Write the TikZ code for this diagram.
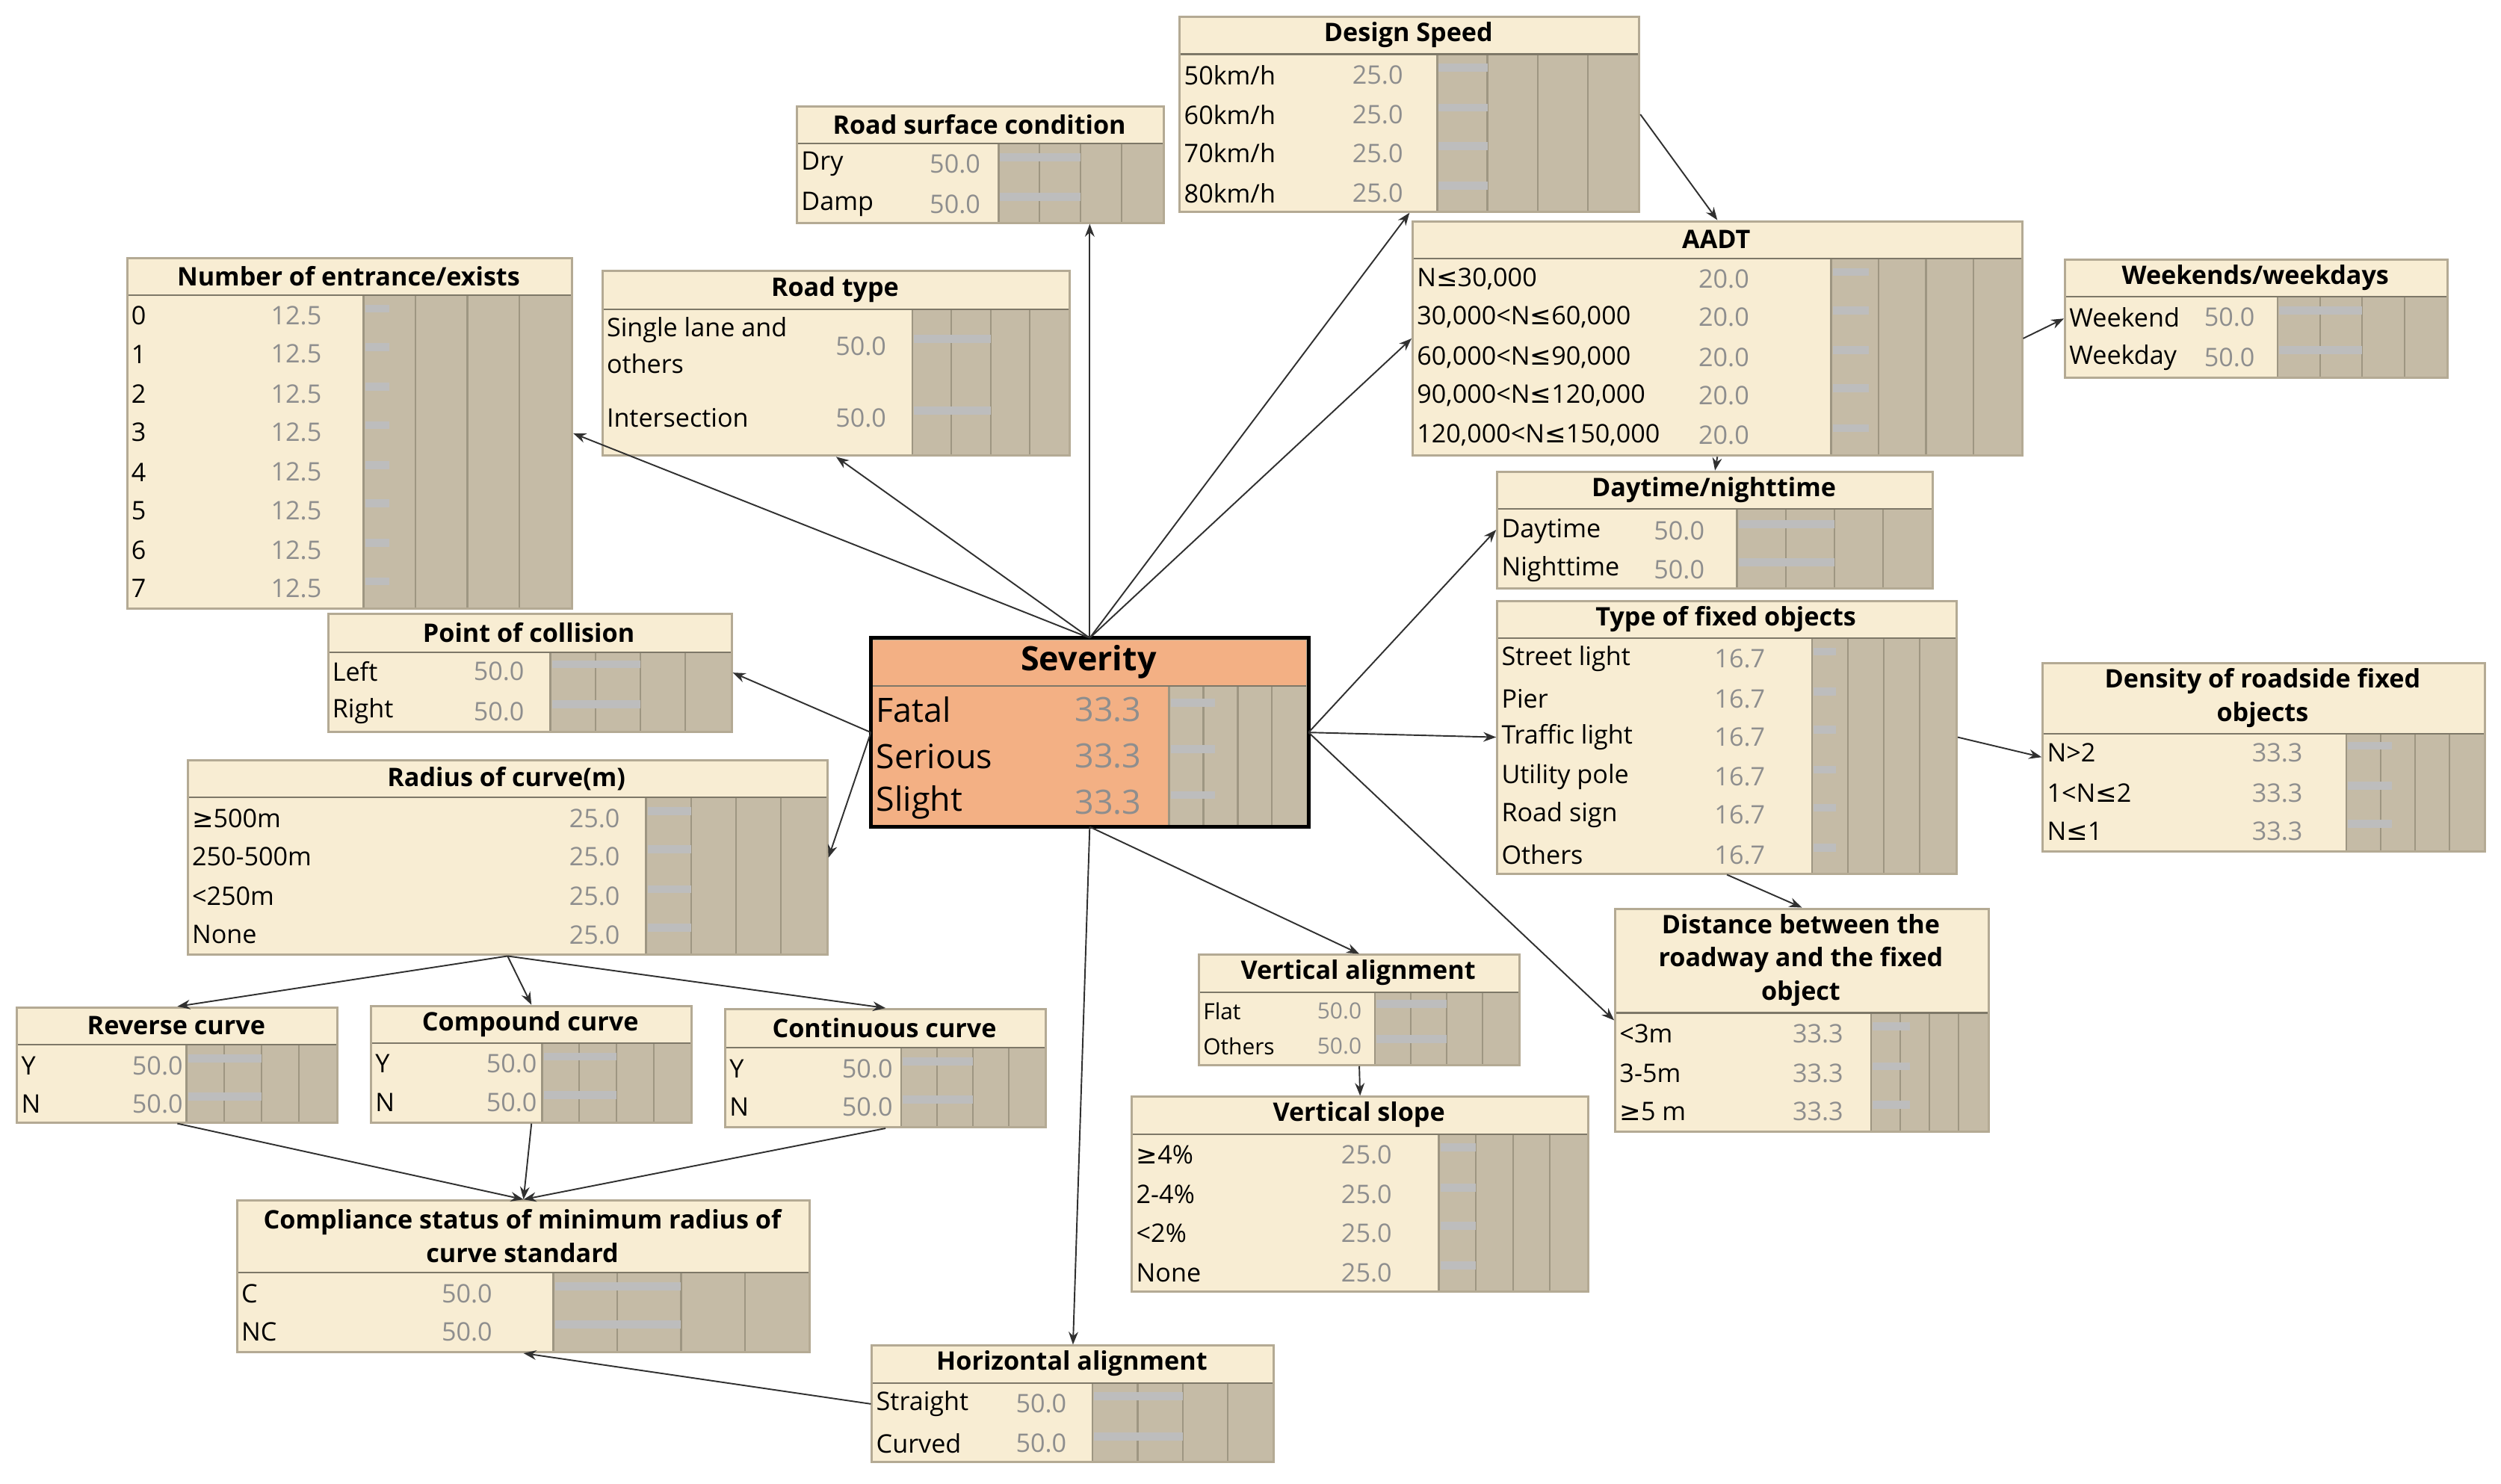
\documentclass[tikz,border=0pt]{standalone}
\usepackage{fontspec}
\setmainfont{Open Sans}
\newfontfamily\symf{DejaVu Sans}
\newcommand\myle{{\symf ≤}}
\newcommand\myge{{\symf ≥}}
\usetikzlibrary{arrows.meta}
\definecolor{cream}{HTML}{F8EDD3}
\definecolor{sevfill}{HTML}{F3B084}
\definecolor{bnborder}{HTML}{B4AA94}
\definecolor{barbg}{HTML}{C5BBA6}
\definecolor{colline}{HTML}{9E9682}
\definecolor{barc}{HTML}{BDBDBD}
\definecolor{valc}{HTML}{8E8E8E}
\definecolor{edgec}{HTML}{303030}
\tikzset{
 lab/.style={inner sep=0,anchor=west,font=\rowfont},
 valst/.style={inner sep=0,anchor=east,text=valc,font=\rowfont},
 ttl/.style={inner sep=0,align=center,font=\ttlfont},
 edge/.style={draw=edgec,line width=0.45pt,-{Stealth[length=4pt,width=3pt]}}
}
\newcommand\rowfont{\fontsize{8}{9}\selectfont}
\newcommand\ttlfont{\fontsize{8}{10.5}\selectfont\bfseries}
% #1 fill, #2 name, #3 x1, #4 y1, #5 x2, #6 y2, #7 title bottom, #8 bar x, #9 title
\newcommand\BN[9][cream]{%
 \fill[#1] (#3,#4) rectangle (#5,#6);
 \fill[barbg] (#8,#7) rectangle (#5,#6);
 \pgfmathsetmacro\cw{(#5-#8)/4}%
 \foreach \k in {1,2,3}{\draw[colline,line width=0.5pt] ({#8+\k*\cw},#7) -- ({#8+\k*\cw},#6);}
 \draw[colline,line width=0.6pt] (#8,#7) -- (#8,#6);
 \draw[colline!80!black,line width=0.5pt] (#3,#7) -- (#5,#7);
 \node[draw=bnborder,line width=0.7pt,inner sep=0,anchor=north west,
   minimum width={(#5-#3)*0.5pt},minimum height={(#6-#4)*0.5pt}] (#2) at (#3,#4) {};
 \node[ttl] at ({(#3+#5)/2},{(#4+#7)/2}) {#9};
 \global\let\curcw\cw
 \gdef\curx{#3}\gdef\curbx{#8}%
}
% y, label, value right x, value
\newcommand\R[4]{%
 \node[lab] at (\curx+3,#1) {#2};
 \node[valst] at (#3,#1) {#4};
 \fill[barc] (\curbx+1,#1-7) rectangle ({\curbx+#4/25*\curcw},#1-2);
}
\begin{document}
\begin{tikzpicture}[x=0.5pt,y=-0.5pt]
\useasboundingbox[fill=white] (0,0) rectangle (1568,930);

\BN{ds}{739}{10}{1027}{132}{34}{901}{Design Speed}
\R{47}{50km/h}{880}{25.0}\R{72}{60km/h}{880}{25.0}\R{96}{70km/h}{880}{25.0}\R{121}{80km/h}{880}{25.0}

\BN{rs}{499}{66}{729}{139}{90}{626}{Road surface condition}
\R{103}{Dry}{615}{50.0}\R{128}{Damp}{615}{50.0}

\BN{ne}{79}{161}{358}{381}{185}{228}{Number of entrance/exists}
\R{198}{0}{202}{12.5}\R{222}{1}{202}{12.5}\R{247}{2}{202}{12.5}\R{271}{3}{202}{12.5}
\R{296}{4}{202}{12.5}\R{320}{5}{202}{12.5}\R{345}{6}{202}{12.5}\R{369}{7}{202}{12.5}

\BN{rt}{377}{169}{670}{285}{194}{572}{Road type}
\node[lab] at (380,207) {Single lane and};
\node[lab] at (380,228) {others};
\R{217}{}{556}{50.0}\R{262}{Intersection}{556}{50.0}

\BN{aadt}{885}{138}{1267}{285}{162}{1148}{AADT}
\R{175}{N\myle30,000}{1097}{20.0}\R{199}{30,000<N\myle60,000}{1097}{20.0}
\R{224}{60,000<N\myle90,000}{1097}{20.0}\R{248}{90,000<N\myle120,000}{1097}{20.0}
\R{273}{120,000<N\myle150,000}{1097}{20.0}

\BN{ww}{1294}{162}{1534}{236}{186}{1428}{Weekends/weekdays}
\R{199}{Weekend}{1414}{50.0}\R{224}{Weekday}{1414}{50.0}

\BN{dn}{938}{295}{1211}{368}{319}{1089}{Daytime/nighttime}
\R{333}{Daytime}{1069}{50.0}\R{357}{Nighttime}{1069}{50.0}

\BN{tf}{938}{376}{1226}{547}{400}{1136}{Type of fixed objects}
\R{413}{Street light}{1107}{16.7}\R{438}{Pier}{1107}{16.7}\R{462}{Traffic light}{1107}{16.7}
\R{487}{Utility pole}{1107}{16.7}\R{511}{Road sign}{1107}{16.7}\R{536}{Others}{1107}{16.7}

\BN{dr}{1280}{415}{1557}{533}{460}{1471}{Density of roadside fixed\\objects}
\R{472}{N>2}{1444}{33.3}\R{497}{1<N\myle2}{1444}{33.3}\R{521}{N\myle1}{1444}{33.3}

\BN{di}{1012}{569}{1246}{709}{635}{1173}{Distance between the\\roadway and the fixed\\object}
\R{648}{<3m}{1156}{33.3}\R{673}{3-5m}{1156}{33.3}\R{697}{\myge5 m}{1156}{33.3}

\renewcommand\ttlfont{\fontsize{10.5}{12}\selectfont\bfseries}
\BN[sevfill]{sev}{546}{400}{819}{517}{430}{733}{Severity}
\draw[black,line width=1.1pt] (sev.north west) rectangle (sev.south east);
\renewcommand\rowfont{\fontsize{10.5}{12}\selectfont}
\R{445}{Fatal}{716}{33.3}\R{474}{Serious}{716}{33.3}\R{503}{Slight}{716}{33.3}
\renewcommand\rowfont{\fontsize{8}{9}\selectfont}
\renewcommand\ttlfont{\fontsize{8}{10.5}\selectfont\bfseries}

\BN{pc}{205}{384}{458}{458}{409}{345}{Point of collision}
\R{421}{Left}{329}{50.0}\R{446}{Right}{329}{50.0}

\BN{rc}{117}{476}{518}{598}{500}{405}{Radius of curve(m)}
\R{513}{\myge500m}{389}{25.0}\R{537}{250-500m}{389}{25.0}\R{562}{<250m}{389}{25.0}\R{586}{None}{389}{25.0}

\BN{rev}{10}{631}{211}{703}{655}{117}{Reverse curve}
\R{668}{Y}{115}{50.0}\R{692}{N}{115}{50.0}

\BN{cc}{232}{630}{433}{703}{654}{340}{Compound curve}
\R{667}{Y}{337}{50.0}\R{691}{N}{337}{50.0}

\BN{co}{454}{632}{655}{706}{657}{565}{Continuous curve}
\R{670}{Y}{560}{50.0}\R{694}{N}{560}{50.0}

\BN{cs}{148}{752}{507}{847}{798}{347}{Compliance status of minimum radius of\\curve standard}
\R{811}{C}{309}{50.0}\R{835}{NC}{309}{50.0}

\BN{ha}{546}{843}{798}{916}{867}{685}{Horizontal alignment}
\R{880}{Straight}{669}{50.0}\R{905}{Curved}{669}{50.0}

\BN{va}{751}{598}{952}{667}{622}{862}{Vertical alignment}
\renewcommand\rowfont{\fontsize{7}{8}\selectfont}
\R{634}{Flat}{854}{50.0}\R{656}{Others}{854}{50.0}
\renewcommand\rowfont{\fontsize{8}{9}\selectfont}

\BN{vs}{709}{687}{995}{809}{711}{902}{Vertical slope}
\R{724}{\myge4\%}{873}{25.0}\R{749}{2-4\%}{873}{25.0}\R{773}{<2\%}{873}{25.0}\R{798}{None}{873}{25.0}

% edges
\draw[edge] (sev.north) -- (rs.south -| sev.north);
\draw[edge] (sev.north) -- (rt.south);
\draw[edge] (sev.north) -- (ne.east);
\draw[edge] (sev.north) -- (ds.south);
\draw[edge] (sev.north) -- (aadt.west);
\draw[edge] (ds.east) -- (aadt.north);
\draw[edge] (aadt.east) -- (ww.west);
\draw[edge] (aadt.south) -- (dn.north);
\draw[edge] (sev.east) -- (dn.west);
\draw[edge] (sev.east) -- (tf.west);
\draw[edge] (sev.east) -- (di.west);
\draw[edge] (tf.east) -- (dr.west);
\draw[edge] (tf.south) -- (di.north);
\draw[edge] (sev.west) -- (pc.east);
\draw[edge] (sev.west) -- (rc.east);
\draw[edge] (rc.south) -- (rev.north);
\draw[edge] (rc.south) -- (cc.north);
\draw[edge] (rc.south) -- (co.north);
\draw[edge] (rev.south) -- (cs.north);
\draw[edge] (cc.south) -- (cs.north);
\draw[edge] (co.south) -- (cs.north);
\draw[edge] (sev.south) -- (va.north);
\draw[edge] (sev.south) -- (ha.north);
\draw[edge] (va.south) -- (vs.north);
\draw[edge] (ha.west) -- (cs.south);
\end{tikzpicture}
\end{document}
